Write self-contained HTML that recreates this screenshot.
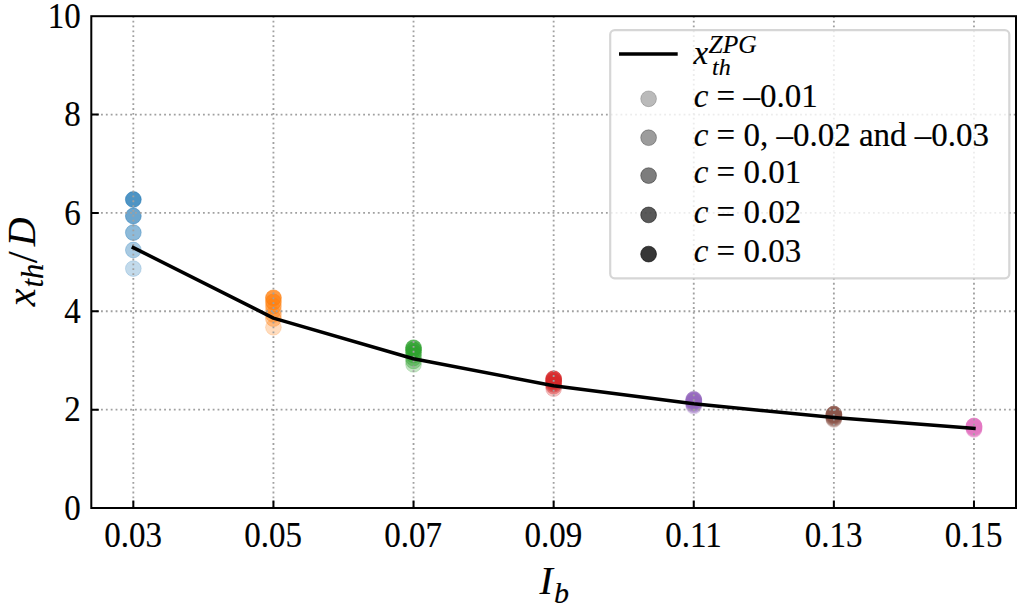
<!DOCTYPE html><html><head><meta charset="utf-8"><style>html,body{margin:0;padding:0;background:#fff;}svg{display:block;}</style></head><body><svg width="1017" height="615" viewBox="0 0 1017 615" font-family='"Liberation Serif", serif'><style>text{stroke:#000;stroke-width:0.15px;}</style><rect width="1017" height="615" fill="#fff"/><circle cx="133.33" cy="268.60" r="7.9" fill="#1f77b4" fill-opacity="0.27" stroke="#1f77b4" stroke-opacity="0.27" stroke-width="0.7"/><circle cx="133.33" cy="250.00" r="7.9" fill="#1f77b4" fill-opacity="0.39" stroke="#1f77b4" stroke-opacity="0.39" stroke-width="0.7"/><circle cx="133.33" cy="232.60" r="7.9" fill="#1f77b4" fill-opacity="0.51" stroke="#1f77b4" stroke-opacity="0.51" stroke-width="0.7"/><circle cx="133.33" cy="216.00" r="7.9" fill="#1f77b4" fill-opacity="0.65" stroke="#1f77b4" stroke-opacity="0.65" stroke-width="0.7"/><circle cx="133.33" cy="199.50" r="7.9" fill="#1f77b4" fill-opacity="0.79" stroke="#1f77b4" stroke-opacity="0.79" stroke-width="0.7"/><circle cx="273.44" cy="327.30" r="7.9" fill="#ff7f0e" fill-opacity="0.27" stroke="#ff7f0e" stroke-opacity="0.27" stroke-width="0.7"/><circle cx="273.44" cy="318.70" r="7.9" fill="#ff7f0e" fill-opacity="0.39" stroke="#ff7f0e" stroke-opacity="0.39" stroke-width="0.7"/><circle cx="273.44" cy="314.50" r="7.9" fill="#ff7f0e" fill-opacity="0.39" stroke="#ff7f0e" stroke-opacity="0.39" stroke-width="0.7"/><circle cx="273.44" cy="310.30" r="7.9" fill="#ff7f0e" fill-opacity="0.39" stroke="#ff7f0e" stroke-opacity="0.39" stroke-width="0.7"/><circle cx="273.44" cy="306.10" r="7.9" fill="#ff7f0e" fill-opacity="0.51" stroke="#ff7f0e" stroke-opacity="0.51" stroke-width="0.7"/><circle cx="273.44" cy="301.90" r="7.9" fill="#ff7f0e" fill-opacity="0.65" stroke="#ff7f0e" stroke-opacity="0.65" stroke-width="0.7"/><circle cx="273.44" cy="297.80" r="7.9" fill="#ff7f0e" fill-opacity="0.79" stroke="#ff7f0e" stroke-opacity="0.79" stroke-width="0.7"/><circle cx="413.54" cy="364.40" r="7.9" fill="#2ca02c" fill-opacity="0.27" stroke="#2ca02c" stroke-opacity="0.27" stroke-width="0.7"/><circle cx="413.54" cy="361.00" r="7.9" fill="#2ca02c" fill-opacity="0.39" stroke="#2ca02c" stroke-opacity="0.39" stroke-width="0.7"/><circle cx="413.54" cy="358.00" r="7.9" fill="#2ca02c" fill-opacity="0.39" stroke="#2ca02c" stroke-opacity="0.39" stroke-width="0.7"/><circle cx="413.54" cy="355.00" r="7.9" fill="#2ca02c" fill-opacity="0.39" stroke="#2ca02c" stroke-opacity="0.39" stroke-width="0.7"/><circle cx="413.54" cy="352.50" r="7.9" fill="#2ca02c" fill-opacity="0.51" stroke="#2ca02c" stroke-opacity="0.51" stroke-width="0.7"/><circle cx="413.54" cy="350.00" r="7.9" fill="#2ca02c" fill-opacity="0.65" stroke="#2ca02c" stroke-opacity="0.65" stroke-width="0.7"/><circle cx="413.54" cy="347.80" r="7.9" fill="#2ca02c" fill-opacity="0.79" stroke="#2ca02c" stroke-opacity="0.79" stroke-width="0.7"/><circle cx="553.65" cy="388.70" r="7.9" fill="#d62728" fill-opacity="0.27" stroke="#d62728" stroke-opacity="0.27" stroke-width="0.7"/><circle cx="553.65" cy="386.20" r="7.9" fill="#d62728" fill-opacity="0.39" stroke="#d62728" stroke-opacity="0.39" stroke-width="0.7"/><circle cx="553.65" cy="384.40" r="7.9" fill="#d62728" fill-opacity="0.39" stroke="#d62728" stroke-opacity="0.39" stroke-width="0.7"/><circle cx="553.65" cy="383.00" r="7.9" fill="#d62728" fill-opacity="0.39" stroke="#d62728" stroke-opacity="0.39" stroke-width="0.7"/><circle cx="553.65" cy="381.60" r="7.9" fill="#d62728" fill-opacity="0.51" stroke="#d62728" stroke-opacity="0.51" stroke-width="0.7"/><circle cx="553.65" cy="380.20" r="7.9" fill="#d62728" fill-opacity="0.65" stroke="#d62728" stroke-opacity="0.65" stroke-width="0.7"/><circle cx="553.65" cy="378.70" r="7.9" fill="#d62728" fill-opacity="0.79" stroke="#d62728" stroke-opacity="0.79" stroke-width="0.7"/><circle cx="693.76" cy="406.20" r="7.9" fill="#9467bd" fill-opacity="0.27" stroke="#9467bd" stroke-opacity="0.27" stroke-width="0.7"/><circle cx="693.76" cy="404.80" r="7.9" fill="#9467bd" fill-opacity="0.39" stroke="#9467bd" stroke-opacity="0.39" stroke-width="0.7"/><circle cx="693.76" cy="403.50" r="7.9" fill="#9467bd" fill-opacity="0.39" stroke="#9467bd" stroke-opacity="0.39" stroke-width="0.7"/><circle cx="693.76" cy="402.50" r="7.9" fill="#9467bd" fill-opacity="0.39" stroke="#9467bd" stroke-opacity="0.39" stroke-width="0.7"/><circle cx="693.76" cy="401.50" r="7.9" fill="#9467bd" fill-opacity="0.51" stroke="#9467bd" stroke-opacity="0.51" stroke-width="0.7"/><circle cx="693.76" cy="400.50" r="7.9" fill="#9467bd" fill-opacity="0.65" stroke="#9467bd" stroke-opacity="0.65" stroke-width="0.7"/><circle cx="693.76" cy="399.30" r="7.9" fill="#9467bd" fill-opacity="0.79" stroke="#9467bd" stroke-opacity="0.79" stroke-width="0.7"/><circle cx="833.86" cy="419.50" r="7.9" fill="#8c564b" fill-opacity="0.27" stroke="#8c564b" stroke-opacity="0.27" stroke-width="0.7"/><circle cx="833.86" cy="418.50" r="7.9" fill="#8c564b" fill-opacity="0.39" stroke="#8c564b" stroke-opacity="0.39" stroke-width="0.7"/><circle cx="833.86" cy="417.50" r="7.9" fill="#8c564b" fill-opacity="0.39" stroke="#8c564b" stroke-opacity="0.39" stroke-width="0.7"/><circle cx="833.86" cy="416.50" r="7.9" fill="#8c564b" fill-opacity="0.39" stroke="#8c564b" stroke-opacity="0.39" stroke-width="0.7"/><circle cx="833.86" cy="415.50" r="7.9" fill="#8c564b" fill-opacity="0.51" stroke="#8c564b" stroke-opacity="0.51" stroke-width="0.7"/><circle cx="833.86" cy="414.80" r="7.9" fill="#8c564b" fill-opacity="0.65" stroke="#8c564b" stroke-opacity="0.65" stroke-width="0.7"/><circle cx="833.86" cy="414.00" r="7.9" fill="#8c564b" fill-opacity="0.79" stroke="#8c564b" stroke-opacity="0.79" stroke-width="0.7"/><circle cx="973.97" cy="429.60" r="7.9" fill="#e377c2" fill-opacity="0.27" stroke="#e377c2" stroke-opacity="0.27" stroke-width="0.7"/><circle cx="973.97" cy="429.00" r="7.9" fill="#e377c2" fill-opacity="0.39" stroke="#e377c2" stroke-opacity="0.39" stroke-width="0.7"/><circle cx="973.97" cy="428.30" r="7.9" fill="#e377c2" fill-opacity="0.39" stroke="#e377c2" stroke-opacity="0.39" stroke-width="0.7"/><circle cx="973.97" cy="427.70" r="7.9" fill="#e377c2" fill-opacity="0.39" stroke="#e377c2" stroke-opacity="0.39" stroke-width="0.7"/><circle cx="973.97" cy="427.10" r="7.9" fill="#e377c2" fill-opacity="0.51" stroke="#e377c2" stroke-opacity="0.51" stroke-width="0.7"/><circle cx="973.97" cy="426.50" r="7.9" fill="#e377c2" fill-opacity="0.65" stroke="#e377c2" stroke-opacity="0.65" stroke-width="0.7"/><circle cx="973.97" cy="425.90" r="7.9" fill="#e377c2" fill-opacity="0.79" stroke="#e377c2" stroke-opacity="0.79" stroke-width="0.7"/><path d="M133.33 508.0 V16.2 M273.44 508.0 V16.2 M413.54 508.0 V16.2 M553.65 508.0 V16.2 M693.76 508.0 V16.2 M833.86 508.0 V16.2 M973.97 508.0 V16.2 M91.3 409.64 H1016.0 M91.3 311.28 H1016.0 M91.3 212.92 H1016.0 M91.3 114.56 H1016.0" stroke="#a0a0a0" stroke-width="1.83" stroke-dasharray="1.83 3.025" fill="none"/><polyline points="133.33,247.6 273.44,318.1 413.54,358.8 553.65,385.7 693.76,403.8 833.86,417.6 973.97,428.4" fill="none" stroke="#000" stroke-width="3.5" stroke-linejoin="round" stroke-linecap="square"/><rect x="610.2" y="30.1" width="399.1" height="248.2" rx="4.5" fill="#fff" fill-opacity="0.8" stroke="#cccccc" stroke-opacity="0.8" stroke-width="2.2"/><line x1="619" y1="54" x2="677.7" y2="54" stroke="#000" stroke-width="3.5"/><circle cx="648.6" cy="98.8" r="7.9" fill="#000" fill-opacity="0.27" stroke="#000" stroke-opacity="0.27" stroke-width="0.7"/><circle cx="648.6" cy="137.7" r="7.9" fill="#000" fill-opacity="0.39" stroke="#000" stroke-opacity="0.39" stroke-width="0.7"/><circle cx="648.6" cy="175.6" r="7.9" fill="#000" fill-opacity="0.51" stroke="#000" stroke-opacity="0.51" stroke-width="0.7"/><circle cx="648.6" cy="214.9" r="7.9" fill="#000" fill-opacity="0.65" stroke="#000" stroke-opacity="0.65" stroke-width="0.7"/><circle cx="648.6" cy="254.1" r="7.9" fill="#000" fill-opacity="0.79" stroke="#000" stroke-opacity="0.79" stroke-width="0.7"/><text x="693.5" y="63.5" font-size="33.0" font-style="italic">x</text><text x="708.5" y="52.6" font-size="25.5" font-style="italic">ZPG</text><text x="712" y="75" font-size="24" font-style="italic">th</text><text transform="translate(693.7,106.6) scale(1,1.01)" font-size="33.0"><tspan font-style="italic">c</tspan> = –0.01</text><text transform="translate(693.7,145.5) scale(1,1.01)" font-size="33.0"><tspan font-style="italic">c</tspan> = 0, –0.02 and –0.03</text><text transform="translate(693.7,183.4) scale(1,1.01)" font-size="33.0"><tspan font-style="italic">c</tspan> = 0.01</text><text transform="translate(693.7,222.7) scale(1,1.01)" font-size="33.0"><tspan font-style="italic">c</tspan> = 0.02</text><text transform="translate(693.7,261.9) scale(1,1.01)" font-size="33.0"><tspan font-style="italic">c</tspan> = 0.03</text><rect x="91.3" y="16.2" width="924.70" height="491.80" fill="none" stroke="#000" stroke-width="2"/><path d="M133.33 508.0 v-7.5 M273.44 508.0 v-7.5 M413.54 508.0 v-7.5 M553.65 508.0 v-7.5 M693.76 508.0 v-7.5 M833.86 508.0 v-7.5 M973.97 508.0 v-7.5 M91.3 409.64 h7.5 M91.3 311.28 h7.5 M91.3 212.92 h7.5 M91.3 114.56 h7.5" stroke="#000" stroke-width="2" fill="none"/><text transform="translate(133.03,546.5) scale(1,1.06)" font-size="33.0" text-anchor="middle">0.03</text><text transform="translate(273.14,546.5) scale(1,1.06)" font-size="33.0" text-anchor="middle">0.05</text><text transform="translate(413.24,546.5) scale(1,1.06)" font-size="33.0" text-anchor="middle">0.07</text><text transform="translate(553.35,546.5) scale(1,1.06)" font-size="33.0" text-anchor="middle">0.09</text><text transform="translate(693.46,546.5) scale(1,1.06)" font-size="33.0" text-anchor="middle">0.11</text><text transform="translate(833.56,546.5) scale(1,1.06)" font-size="33.0" text-anchor="middle">0.13</text><text transform="translate(973.67,546.5) scale(1,1.06)" font-size="33.0" text-anchor="middle">0.15</text><text transform="translate(80.7,519.80) scale(1,1.06)" font-size="33.0" text-anchor="end">0</text><text transform="translate(80.7,421.44) scale(1,1.06)" font-size="33.0" text-anchor="end">2</text><text transform="translate(80.7,323.08) scale(1,1.06)" font-size="33.0" text-anchor="end">4</text><text transform="translate(80.7,224.72) scale(1,1.06)" font-size="33.0" text-anchor="end">6</text><text transform="translate(80.7,126.36) scale(1,1.06)" font-size="33.0" text-anchor="end">8</text><text transform="translate(80.7,28.00) scale(1,1.06)" font-size="33.0" text-anchor="end">10</text><text x="539.5" y="594" font-size="40.0" font-style="italic">I</text><text x="554" y="603" font-size="30" font-style="italic">b</text><g transform="translate(35,306.2) rotate(-90)"><text x="0" y="0" font-size="40.0" font-style="italic">x</text><text x="18.7" y="7.9" font-size="30.5" font-style="italic">th</text><text x="43" y="2" font-size="43">/</text><text x="60" y="0" font-size="40.0" font-style="italic">D</text></g></svg></body></html>
